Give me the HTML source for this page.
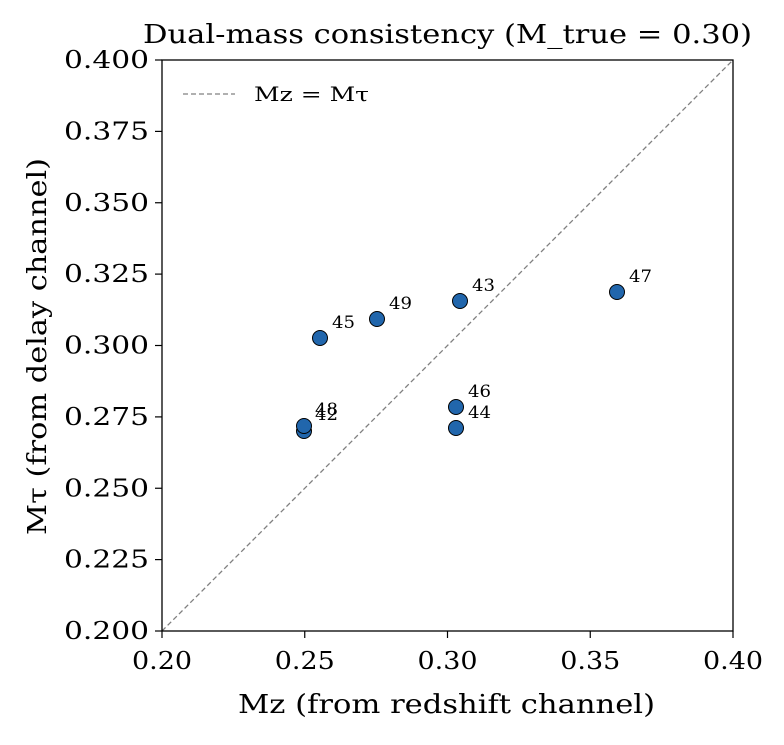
<!DOCTYPE html>
<html><head><meta charset="utf-8"><style>
body{margin:0;background:#fff;}
svg text{font-family:"DejaVu Serif","Liberation Serif",serif;fill:#000;}
</style></head><body>
<svg width="784" height="740" viewBox="0 0 784 740" xmlns="http://www.w3.org/2000/svg">
<rect width="784" height="740" fill="#fff"/>
<line x1="162" y1="631" x2="733" y2="60" stroke="#808080" stroke-width="1.3" stroke-dasharray="5,3"/>
<rect x="162" y="60" width="571" height="571" fill="none" stroke="#000" stroke-width="1.3"/>
<g stroke="#000" stroke-width="1.2">
<line x1="162" y1="631" x2="162" y2="638"/><line x1="304.75" y1="631" x2="304.75" y2="638"/><line x1="447.5" y1="631" x2="447.5" y2="638"/><line x1="590.25" y1="631" x2="590.25" y2="638"/><line x1="733" y1="631" x2="733" y2="638"/>
<line x1="155" y1="60" x2="162" y2="60"/><line x1="155" y1="131.4" x2="162" y2="131.4"/><line x1="155" y1="202.75" x2="162" y2="202.75"/><line x1="155" y1="274.1" x2="162" y2="274.1"/><line x1="155" y1="345.5" x2="162" y2="345.5"/><line x1="155" y1="416.9" x2="162" y2="416.9"/><line x1="155" y1="488.25" x2="162" y2="488.25"/><line x1="155" y1="559.6" x2="162" y2="559.6"/><line x1="155" y1="631" x2="162" y2="631"/>
</g>
<g font-size="24" text-anchor="middle">
<text x="162" y="669" textLength="60" lengthAdjust="spacingAndGlyphs">0.20</text>
<text x="304.75" y="669" textLength="60" lengthAdjust="spacingAndGlyphs">0.25</text>
<text x="447.5" y="669" textLength="60" lengthAdjust="spacingAndGlyphs">0.30</text>
<text x="590.25" y="669" textLength="60" lengthAdjust="spacingAndGlyphs">0.35</text>
<text x="733" y="669" textLength="60" lengthAdjust="spacingAndGlyphs">0.40</text>
</g>
<g font-size="24" text-anchor="end">
<text x="149" y="68" textLength="85" lengthAdjust="spacingAndGlyphs">0.400</text>
<text x="149" y="139.4" textLength="85" lengthAdjust="spacingAndGlyphs">0.375</text>
<text x="149" y="210.75" textLength="85" lengthAdjust="spacingAndGlyphs">0.350</text>
<text x="149" y="282.1" textLength="85" lengthAdjust="spacingAndGlyphs">0.325</text>
<text x="149" y="353.5" textLength="85" lengthAdjust="spacingAndGlyphs">0.300</text>
<text x="149" y="424.9" textLength="85" lengthAdjust="spacingAndGlyphs">0.275</text>
<text x="149" y="496.25" textLength="85" lengthAdjust="spacingAndGlyphs">0.250</text>
<text x="149" y="567.6" textLength="85" lengthAdjust="spacingAndGlyphs">0.225</text>
<text x="149" y="639" textLength="85" lengthAdjust="spacingAndGlyphs">0.200</text>
</g>
<text x="143" y="43" font-size="26" textLength="609" lengthAdjust="spacingAndGlyphs">Dual-mass consistency (M_true = 0.30)</text>
<text x="238" y="713" font-size="26" textLength="417" lengthAdjust="spacingAndGlyphs">Mz (from redshift channel)</text>
<text x="0" y="0" font-size="26" transform="translate(46,535) rotate(-90)" textLength="377" lengthAdjust="spacingAndGlyphs">Mτ (from delay channel)</text>
<line x1="183" y1="94" x2="235" y2="94" stroke="#808080" stroke-width="1.3" stroke-dasharray="5,3"/>
<text x="254" y="101" font-size="20" textLength="115" lengthAdjust="spacingAndGlyphs">Mz = Mτ</text>
<g fill="#2166ac" stroke="#000" stroke-width="1">
<circle cx="304" cy="431" r="7.5"/><circle cx="304" cy="426" r="7.5"/>
<circle cx="320" cy="338" r="7.5"/><circle cx="377" cy="319" r="7.5"/>
<circle cx="460" cy="301" r="7.5"/><circle cx="617" cy="292" r="7.5"/>
<circle cx="456" cy="407" r="7.5"/><circle cx="456" cy="428" r="7.5"/>
</g>
<g font-size="17">
<text x="315" y="420" textLength="23" lengthAdjust="spacingAndGlyphs">42</text>
<text x="315" y="415" textLength="23" lengthAdjust="spacingAndGlyphs">48</text>
<text x="332" y="328" textLength="23" lengthAdjust="spacingAndGlyphs">45</text>
<text x="389" y="309" textLength="23" lengthAdjust="spacingAndGlyphs">49</text>
<text x="472" y="291" textLength="23" lengthAdjust="spacingAndGlyphs">43</text>
<text x="629" y="282" textLength="23" lengthAdjust="spacingAndGlyphs">47</text>
<text x="468" y="397" textLength="23" lengthAdjust="spacingAndGlyphs">46</text>
<text x="468" y="418" textLength="23" lengthAdjust="spacingAndGlyphs">44</text>
</g>
</svg>
</body></html>
